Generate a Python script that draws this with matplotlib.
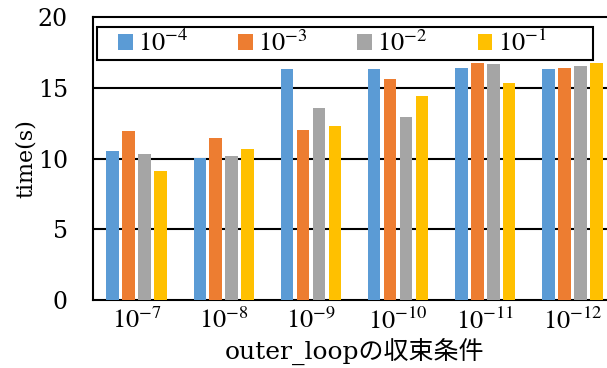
import matplotlib
matplotlib.use("Agg")
import matplotlib.pyplot as plt
from matplotlib.patches import Rectangle
import numpy as np

categories = ["$10^{-7}$", "$10^{-8}$", "$10^{-9}$", "$10^{-10}$", "$10^{-11}$", "$10^{-12}$"]
series_labels = ["$10^{-4}$", "$10^{-3}$", "$10^{-2}$", "$10^{-1}$"]
s_1e4 = [10.53, 10.04, 16.33, 16.33, 16.37, 16.35]
s_1e3 = [11.94, 11.43, 11.99, 15.64, 16.77, 16.42]
s_1e2 = [10.32, 10.18, 13.55, 12.93, 16.65, 16.54]
s_1e1 = [9.12, 10.70, 12.32, 14.44, 15.36, 16.77]
series = [s_1e4, s_1e3, s_1e2, s_1e1]
colors = ["#5B9BD5", "#ED7D31", "#A5A5A5", "#FFC000"]
yticks = [0, 5, 10, 15, 20]

plt.rcParams['mathtext.fontset'] = 'stix'
serif = ['DejaVu Serif', 'Noto Sans CJK JP']

fig = plt.figure(figsize=(6.07, 3.68), dpi=100)
ax = fig.add_axes([93/607, 1-300/368, 523/607, 283/368])

x = np.arange(len(categories))
step = 0.183
width = 0.145
for i, (vals, c, lab) in enumerate(zip(series, colors, series_labels)):
    ax.bar(x + (i - 1.5) * step, vals, width=width, color=c, label=lab, zorder=3)

ax.set_xlim(-0.5, len(categories) - 0.5)
ax.set_ylim(0, 20)
ax.set_yticks(yticks)
ax.set_yticklabels([str(v) for v in yticks], family=serif, fontsize=17)
ax.set_xticks(x)
ax.set_xticklabels(categories, fontsize=19)
ax.tick_params(axis='both', length=0)
ax.tick_params(axis='y', pad=18)
ax.tick_params(axis='x', pad=6)
for v in [5, 10, 15]:
    ax.axhline(v, color='black', lw=1.5, zorder=1)
for s in ax.spines.values():
    s.set_linewidth(1.5)
    s.set_color('black')

ax.set_ylabel("time(s)", family=serif, fontsize=16, labelpad=1)
ax.set_xlabel("outer_loopの収束条件", family=serif, fontsize=18, labelpad=3)

# legend box
box = Rectangle((4/523, 1 - 43/283), 496/523, 33/283, transform=ax.transAxes,
                facecolor='white', edgecolor='black', linewidth=1.5, zorder=5)
ax.add_patch(box)
leg = ax.legend(ncol=4, loc='center left', bbox_to_anchor=((118 - 93)/523, 1 - 27/283),
                frameon=False, prop={'size': 19}, handlelength=0.55, handleheight=0.55,
                handletextpad=0.2, columnspacing=1.9, borderaxespad=0, borderpad=0)
leg.set_zorder(6)

fig.savefig("out.png", dpi=100)
